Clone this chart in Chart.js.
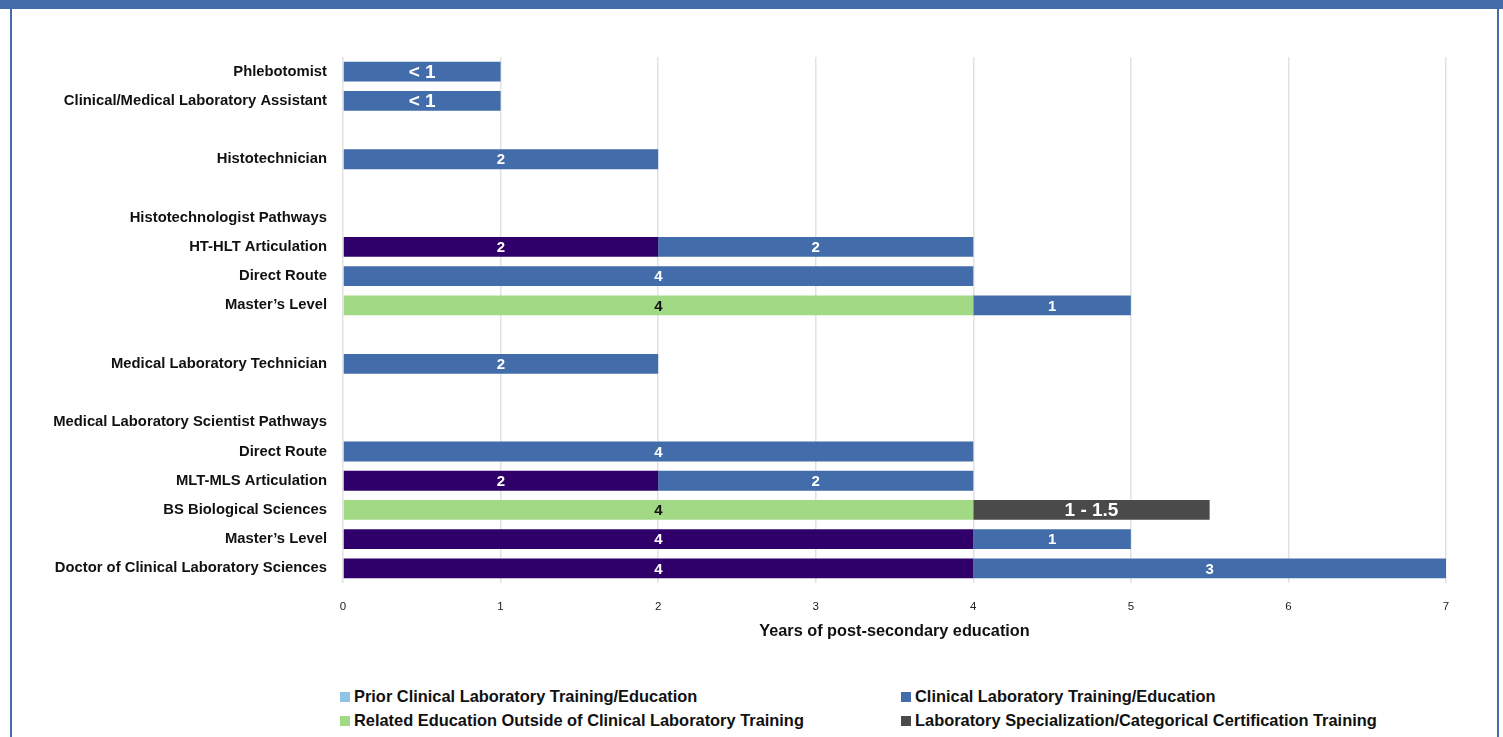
<!DOCTYPE html>
<html lang="en">
<head>
  <meta charset="UTF-8">
  <title>Years of post-secondary education by laboratory career</title>
  <script src="https://cdn.jsdelivr.net/npm/chart.js"></script>
  <style>
    body {
      margin: 0;
      background: #fff;
      font-family: "Liberation Sans", Arial, Helvetica, sans-serif;
      overflow: hidden;
    }
    .band { position: absolute; left: 0; top: 0; width: 1503px; height: 9px; background: #426DAA; }
    .side { position: absolute; top: 0; width: 1.5px; height: 737px; background: #426DAA; }
    canvas { position: absolute; left: 0; top: 0; }
    #legend {
      position: absolute;
      left: 340px;
      top: 687px;
      display: grid;
      grid-template-columns: 561px auto;
      row-gap: 5px;
      font-weight: bold;
      font-size: 16.4px;
      color: #111;
    }
    #legend div { display: flex; align-items: center; height: 19px; white-space: nowrap; }
    #legend span.box { width: 10px; height: 10px; margin-right: 4px; display: inline-block; }
  </style>
</head>
<body>
  <div class="band"></div>
  <div class="side" style="left:10px"></div>
  <div class="side" style="left:1497px"></div>
  <canvas id="pathways" width="1503" height="650"></canvas>
  <div id="legend"></div>

  <script>
    // rows of the chart, blank strings leave a gap between groups
    const careers = [
      'Phlebotomist',
      'Clinical/Medical Laboratory Assistant',
      '',
      'Histotechnician',
      '',
      'Histotechnologist Pathways',
      'HT-HLT Articulation',
      'Direct Route',
      'Master\u2019s Level',
      '',
      'Medical Laboratory Technician',
      '',
      'Medical Laboratory Scientist Pathways',
      'Direct Route',
      'MLT-MLS Articulation',
      'BS Biological Sciences',
      'Master\u2019s Level',
      'Doctor of Clinical Laboratory Sciences'
    ];

    const xTicks = [0, 1, 2, 3, 4, 5, 6, 7];

    // years per segment (null = no segment on that row)
    const priorYears    = [null, null, null, null, null, null, 2, null, null, null, null, null, null, null, 2, null, 4, 4];
    const relatedYears  = [null, null, null, null, null, null, null, null, 4, null, null, null, null, null, null, 4, null, null];
    const clinicalYears = [1, 1, null, 2, null, null, 2, 4, 1, null, 2, null, null, 4, 2, null, 1, 3];
    const specialYears  = [null, null, null, null, null, null, null, null, null, null, null, null, null, null, null, 1.5, null, null];

    // segments whose printed value is a range rather than a single number
    const clinicalText = { 0: '< 1', 1: '< 1' };
    const specialText  = { 15: '1 - 1.5' };

    const seriesNames = [
      'Prior Clinical Laboratory Training/Education',
      'Related Education Outside of Clinical Laboratory Training',
      'Clinical Laboratory Training/Education',
      'Laboratory Specialization/Categorical Certification Training'
    ];

    const FONT = '"Liberation Sans", Arial, Helvetica, sans-serif';

    // writes the value (or its range text) in the middle of each bar
    const barText = {
      id: 'barText',
      afterDatasetsDraw(chart) {
        const ctx = chart.ctx;
        chart.data.datasets.forEach((ds, di) => {
          chart.getDatasetMeta(di).data.forEach((bar, i) => {
            const v = ds.data[i];
            if (v == null) return;
            const text = (ds.valueText && ds.valueText[i]) || String(v);
            ctx.save();
            ctx.font = 'bold ' + (text.length > 1 ? 19 : 15) + 'px ' + FONT;
            ctx.fillStyle = ds.textColor;
            ctx.textAlign = 'center';
            ctx.textBaseline = 'middle';
            ctx.fillText(text, (bar.x + bar.base) / 2, bar.y + 1);
            ctx.restore();
          });
        });
      }
    };

    // two-column legend under the chart
    const gridLegend = {
      id: 'gridLegend',
      afterUpdate(chart) {
        const box = document.getElementById('legend');
        box.innerHTML = '';
        [0, 2, 1, 3].forEach(di => {
          const ds = chart.data.datasets[di];
          const item = document.createElement('div');
          item.innerHTML = '<span class="box" style="background:' + ds.legendColor + '"></span>' + ds.label;
          box.appendChild(item);
        });
      }
    };

    const ctx = document.getElementById('pathways').getContext('2d');
    new Chart(ctx, {
      type: 'bar',
      data: {
        labels: careers,
        datasets: [
          { label: seriesNames[0], data: priorYears, backgroundColor: '#2F006A', legendColor: '#8FC4E6', textColor: '#fff' },
          { label: seriesNames[1], data: relatedYears, backgroundColor: '#A2D985', legendColor: '#A2D985', textColor: '#111' },
          { label: seriesNames[2], data: clinicalYears, backgroundColor: '#426DAA', legendColor: '#426DAA', textColor: '#fff', valueText: clinicalText },
          { label: seriesNames[3], data: specialYears, backgroundColor: '#4A4A4A', legendColor: '#4A4A4A', textColor: '#fff', valueText: specialText }
        ]
      },
      options: {
        indexAxis: 'y',
        responsive: false,
        devicePixelRatio: 1,
        animation: false,
        categoryPercentage: 0.7,
        barPercentage: 0.97,
        layout: { padding: { top: 57, right: 57, left: 0, bottom: 0 } },
        scales: {
          x: {
            stacked: true,
            min: 0,
            max: 7,
            afterFit: s => { s.height = 67; },
            afterBuildTicks: s => { s.ticks = xTicks.map(v => ({ value: v })); },
            grid: { color: '#E2E2E2', lineWidth: 1.5, drawTicks: false },
            border: { display: false },
            ticks: { padding: 17, color: '#222', font: { family: FONT, size: 11.5 } },
            title: {
              display: true,
              text: 'Years of post-secondary education',
              color: '#111',
              padding: { top: 6, bottom: 9 },
              font: { family: FONT, size: 16.3, weight: 'bold' }
            }
          },
          y: {
            stacked: true,
            afterFit: s => { s.width = 343; },
            grid: { display: false },
            border: { display: false },
            ticks: { padding: 8, color: '#111', autoSkip: false, font: { family: FONT, size: 14.8, weight: 'bold' } }
          }
        },
        plugins: {
          legend: { display: false },
          tooltip: { enabled: false }
        }
      },
      plugins: [barText, gridLegend]
    });
  </script>
</body>
</html>
